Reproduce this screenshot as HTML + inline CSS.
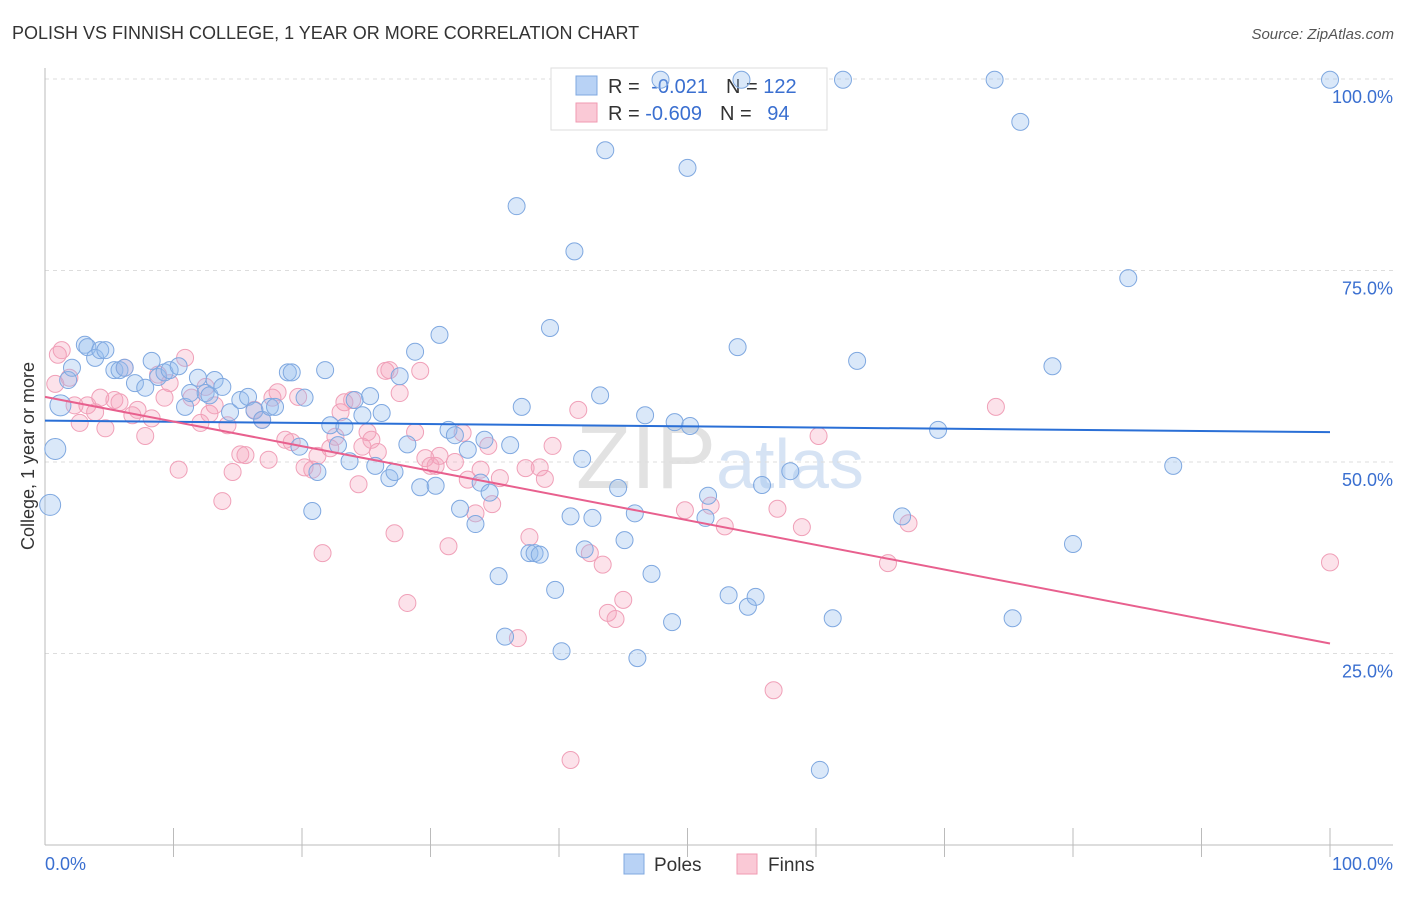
<!DOCTYPE html>
<html><head><meta charset="utf-8"><style>
body{margin:0;background:#fff;font-family:"Liberation Sans",sans-serif;}
svg text{font-family:"Liberation Sans",sans-serif;}
</style></head><body>
<svg id="c" width="1406" height="892">
<text x="12" y="39" font-size="18" fill="#333">POLISH VS FINNISH COLLEGE, 1 YEAR OR MORE CORRELATION CHART</text>
<text x="1394" y="39" font-size="15" fill="#555" text-anchor="end" font-style="italic">Source: ZipAtlas.com</text>
<text x="720" y="488" font-size="90" fill="#e6ecf4" text-anchor="middle" font-family="Liberation Serif"><tspan fill="#e2e2e2">ZIP</tspan><tspan font-family="Liberation Sans" font-size="70" fill="#d6e3f4">atlas</tspan></text>
<g id="grid"></g>
<g>
<rect x="551" y="68" width="276" height="62" fill="#fff" stroke="#ddd"/>
<rect x="576" y="76" width="21" height="19" fill="#b8d2f5" stroke="#7fa8e0"/>
<rect x="576" y="103" width="21" height="19" fill="#fac9d6" stroke="#f09ab2"/>
<text x="608" y="93" font-size="20" fill="#333">R = <tspan fill="#3a6fd0" dx="6">-0.021</tspan><tspan dx="18" fill="#333">N = </tspan><tspan fill="#3a6fd0">122</tspan></text>
<text x="608" y="120" font-size="20" fill="#333">R = <tspan fill="#3a6fd0">-0.609</tspan><tspan dx="18" fill="#333">N = </tspan><tspan fill="#3a6fd0" dx="10">94</tspan></text>
</g>
<g id="pts"></g>
<g id="trend"></g>
<text transform="translate(34,456) rotate(-90)" font-size="18" fill="#333" text-anchor="middle">College, 1 year or more</text>
<text x="45" y="870" font-size="18" fill="#3a6fd0">0.0%</text>
<text x="1393" y="870" font-size="18" fill="#3a6fd0" text-anchor="end">100.0%</text>
<g>
<rect x="624" y="854" width="20" height="20" fill="#b8d2f5" stroke="#7fa8e0"/>
<text x="654" y="871" font-size="19" fill="#333">Poles</text>
<rect x="737" y="854" width="20" height="20" fill="#fac9d6" stroke="#f09ab2"/>
<text x="768" y="871" font-size="19" fill="#333">Finns</text>
</g>
</svg>
<script>
const yTicks=[25,50,75,100];
const yTickLabels=["25.0%","50.0%","75.0%","100.0%"];
const polesX=[0.4,0.8,1.2,1.8,2.1,3.1,3.3,3.9,4.3,4.7,5.4,5.8,6.2,7.0,7.8,8.3,8.8,9.3,9.7,10.4,10.9,11.3,11.9,12.5,12.8,13.2,13.8,14.4,15.2,15.8,16.3,16.9,17.5,17.9,18.9,19.2,19.8,20.2,20.8,21.2,21.8,22.2,22.8,23.3,23.7,24.1,24.7,25.3,25.7,26.2,26.8,27.2,27.6,28.2,28.8,29.2,30.4,30.7,31.4,31.9,32.3,32.9,33.5,33.9,34.2,34.6,35.3,35.8,36.2,36.7,37.1,37.7,38.1,38.5,39.3,39.7,40.2,40.9,41.2,41.8,42.0,42.6,43.2,43.6,44.6,45.1,45.9,46.1,46.7,47.2,47.9,48.8,49.0,50.0,50.2,51.4,51.6,53.2,53.9,54.2,54.7,55.3,55.8,58.0,60.3,61.3,62.1,63.2,66.7,69.5,73.9,75.3,75.9,78.4,80.0,84.3,87.8,100];
const polesY=[44.4,51.7,57.4,60.7,62.3,65.3,65.0,63.6,64.6,64.6,62.0,62.0,62.3,60.3,59.7,63.2,61.1,61.7,62.0,62.5,57.2,59.0,61.0,59.0,58.7,60.7,59.8,56.5,58.1,58.5,56.7,55.5,57.2,57.2,61.7,61.7,52.0,58.4,43.6,48.7,62.0,54.8,52.2,54.6,50.1,58.1,56.1,58.6,49.5,56.4,47.9,48.7,61.2,52.3,64.4,46.7,46.9,66.6,54.2,53.5,43.9,51.6,41.9,47.3,52.9,46.0,35.1,27.2,52.2,83.4,57.2,38.1,38.1,37.9,67.5,33.3,25.3,42.9,77.5,50.4,38.6,42.7,58.7,90.7,46.6,39.8,43.3,24.4,56.1,35.4,99.9,29.1,55.2,88.4,54.7,42.7,45.6,32.6,65.0,99.9,31.1,32.4,47.0,48.8,9.8,29.6,99.9,63.2,42.9,54.2,99.9,29.6,94.4,62.5,39.3,74.0,49.5,99.9];
const finnsX=[0.8,1.0,1.3,1.9,2.3,2.7,3.3,3.9,4.3,4.7,5.4,5.8,6.2,6.8,7.2,7.8,8.3,8.8,9.3,9.7,10.4,10.9,11.4,12.1,12.5,12.8,13.2,13.8,14.2,14.6,15.2,15.6,16.3,16.9,17.4,17.7,18.1,18.7,19.2,19.7,20.2,20.8,21.2,21.6,22.2,22.6,23.0,23.3,23.9,24.4,24.7,25.1,25.4,25.9,26.5,26.8,27.2,27.6,28.2,28.8,29.2,29.6,30.0,30.4,30.7,31.4,31.9,32.5,32.9,33.5,33.9,34.5,34.8,35.4,36.8,37.4,37.7,38.5,38.9,39.5,40.9,41.5,42.4,43.4,43.8,44.4,45.0,49.8,51.8,52.9,56.7,57.0,58.9,60.2,65.6,67.2,74.0,100];
const finnsY=[60.2,64.0,64.6,61.0,57.4,55.1,57.4,56.5,58.4,54.4,58.1,57.8,62.3,56.1,56.8,53.4,55.7,61.4,58.4,60.3,49.0,63.6,58.4,55.1,59.8,56.3,57.4,44.9,54.8,48.7,51.0,50.9,56.8,55.5,50.3,58.4,59.1,52.9,52.6,58.5,49.3,49.0,50.8,38.1,51.8,53.3,56.5,57.8,58.1,47.1,52.0,53.9,52.9,51.3,61.9,62.0,40.7,59.0,31.6,53.9,61.9,50.5,49.5,49.5,50.8,39.0,50.0,53.8,47.7,43.3,49.0,52.1,44.5,47.9,27.0,49.2,40.2,49.3,47.8,52.1,11.1,56.8,38.1,36.6,30.3,29.5,32.0,43.7,44.3,41.6,20.2,43.9,41.5,53.4,36.8,42.0,57.2,36.9];
const polesTrend=[55.4,53.9];
const finnsTrend=[58.5,26.3];
const X0=45,X1=1330,Y0=845,Y100=79;
const sx=v=>X0+(X1-X0)*v/100, sy=v=>Y0-(Y0-Y100)*v/100;
const NS="http://www.w3.org/2000/svg";
function mk(t,a,p){const e=document.createElementNS(NS,t);for(const k in a)e.setAttribute(k,a[k]);p.appendChild(e);return e;}
const g=document.getElementById('grid');
yTicks.forEach((v,i)=>{
 const l=mk('line',{x1:X0,x2:1393,y1:sy(v),y2:sy(v),stroke:'#ddd','stroke-dasharray':'4,4'},g);
 
 
 const t=mk('text',{x:1393,y:sy(v)+24,'font-size':18,fill:'#3a6fd0','text-anchor':'end'},g);
 t.textContent=yTickLabels[i];
 
 
});
const ax=mk('line',{x1:X0,x2:1393,y1:Y0,y2:Y0,stroke:'#bbb'},g);


const ay=mk('line',{x1:X0,x2:X0,y1:68,y2:Y0,stroke:'#bbb'},g);


for(let i=1;i<=10;i++){const tk=mk('line',{x1:sx(i*10),x2:sx(i*10),y1:Y0-17,y2:Y0+12,stroke:'#bbb'},g);
 
 }
const P=document.getElementById('pts');
finnsX.forEach((v,i)=>{const c=mk('circle',{cx:sx(v),cy:sy(finnsY[i]),r:8.5,fill:'rgba(246,160,186,0.3)',stroke:'#f0a0b8','stroke-width':1},P);
 
 });
polesX.forEach((v,i)=>{const c=mk('circle',{cx:sx(v),cy:sy(polesY[i]),r:(v<1.5?10.5:8.5),fill:'rgba(150,188,238,0.35)',stroke:'#7fa8e0','stroke-width':1},P);
 
 });
const T=document.getElementById('trend');
const bl=mk('line',{x1:sx(0),x2:sx(100),y1:sy(polesTrend[0]),y2:sy(polesTrend[1]),stroke:'#2a6fd6','stroke-width':2},T);


const pl=mk('line',{x1:sx(0),x2:sx(100),y1:sy(finnsTrend[0]),y2:sy(finnsTrend[1]),stroke:'#e8608e','stroke-width':2},T);


</script>
</body></html>
